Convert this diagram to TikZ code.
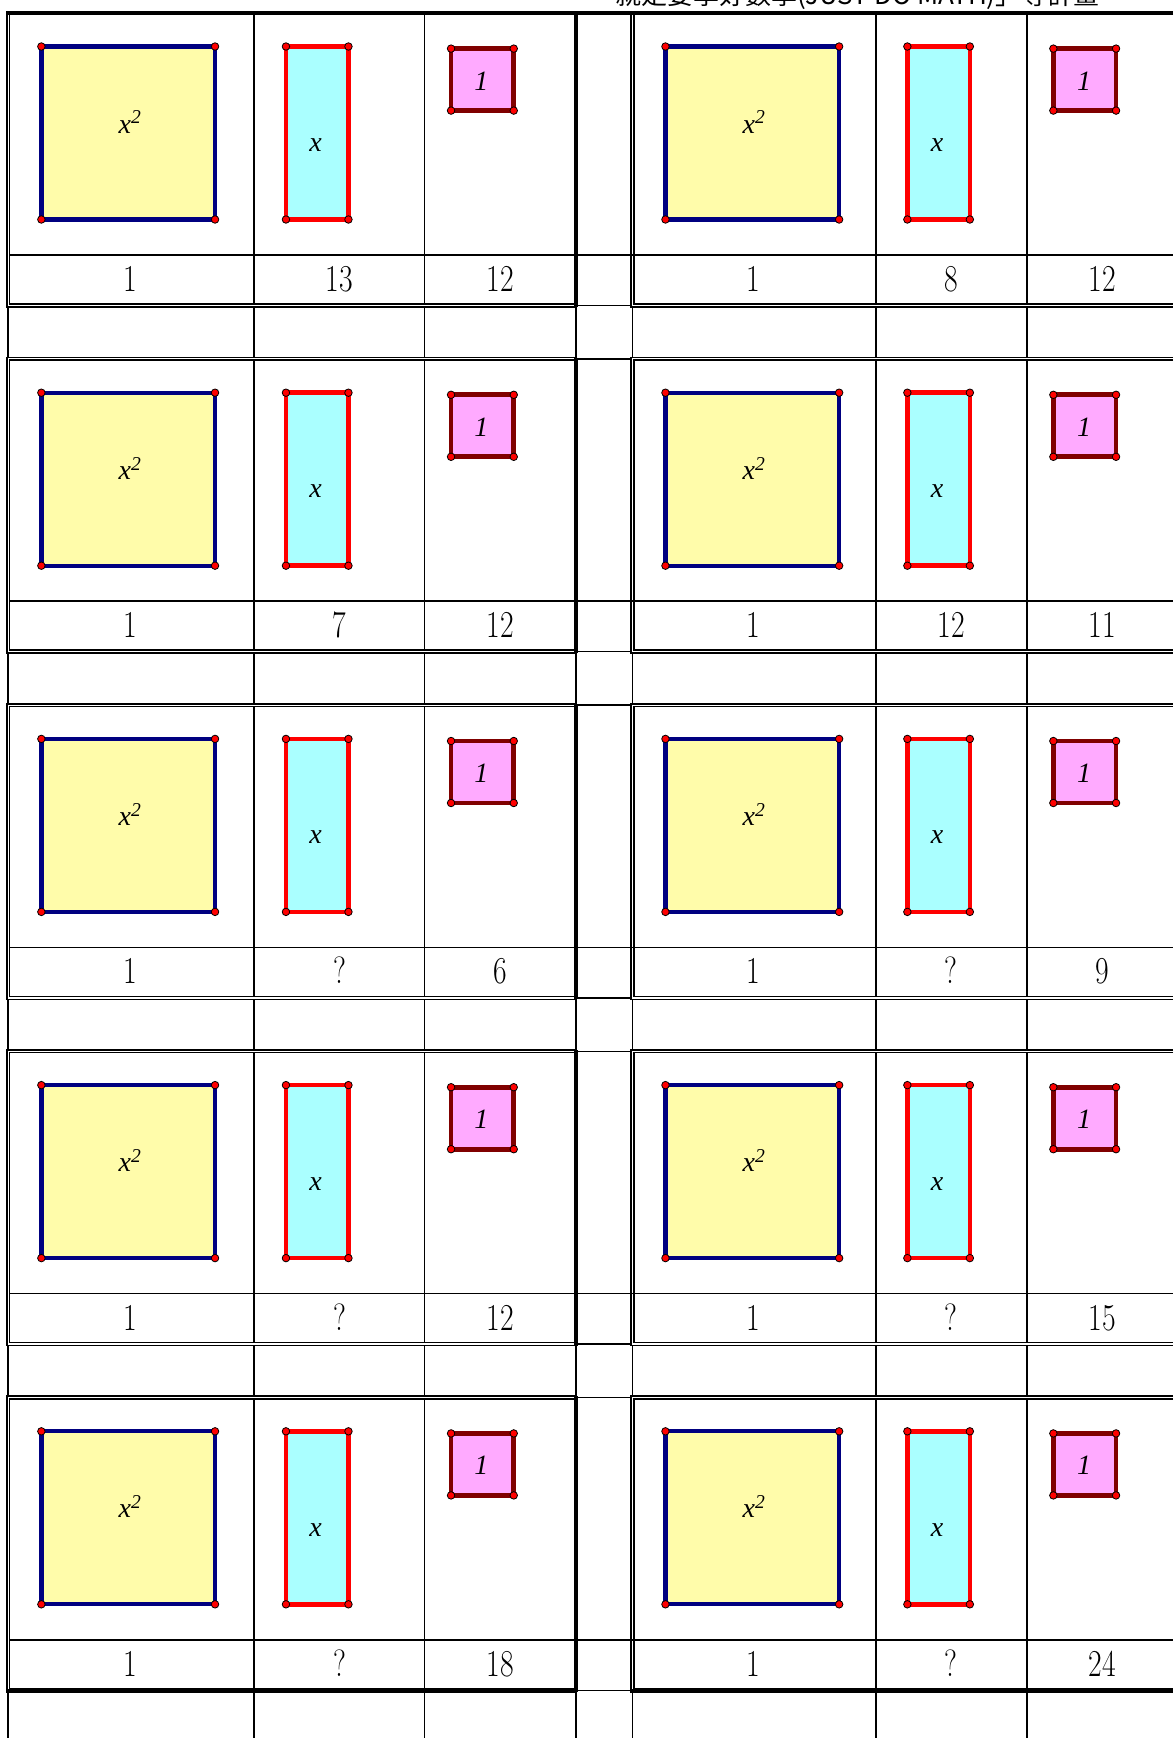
\documentclass[tikz,border=0pt]{standalone}
\usepackage{fontspec}
\usepackage{graphicx}
\newfontfamily\tmsi{Liberation Serif Italic}
\newfontfamily\cjkf{Noto Sans CJK TC}
\definecolor{yfill}{RGB}{255,252,170}
\definecolor{cfill}{RGB}{170,255,255}
\definecolor{pfill}{RGB}{255,170,255}
\definecolor{navyc}{RGB}{0,0,128}
\definecolor{dred}{RGB}{128,0,0}
\newcommand\rlab[1]{\scalebox{0.78}[1]{#1}}
\begin{document}
\begin{tikzpicture}[x=1pt,y=-1pt,
  tl/.style={line width=1.5pt,black},
  tk/.style={line width=3.8pt,black},
  sqy/.style={rectangle,draw=navyc,fill=yfill,line width=4.3pt,inner sep=0pt,outer sep=0pt,minimum width=173.7pt,minimum height=173pt},
  rcy/.style={rectangle,draw=red,fill=cfill,line width=4.5pt,inner sep=0pt,outer sep=0pt,minimum width=62.5pt,minimum height=173pt},
  sqp/.style={rectangle,draw=dred,fill=pfill,line width=4.8pt,inner sep=0pt,outer sep=0pt,minimum width=62.7pt,minimum height=62pt},
  crn/.style={circle,fill=red,draw=black,line width=0.8pt,inner sep=0pt,minimum size=7.5pt},
  ital/.style={font=\tmsi\fontsize{28}{28}\selectfont,inner sep=0pt,anchor=base},
  num/.style={font=\fontsize{38}{38}\selectfont,inner sep=0pt,anchor=base},
]
\useasboundingbox (0,0) rectangle (1173,1738);
\fill[white] (0,0) rectangle (1173,1738);
\node[anchor=base west,inner sep=0pt,font=\cjkf\fontsize{26}{26}\selectfont] (title) at (615,4) {就是要學好數學(JUST DO MATH)」等計畫};

% grid
\foreach \k [evaluate=\k as \T using 12.7+\k*346.2,
             evaluate=\k as \B using 305.5+\k*346.2,
             evaluate=\k as \L using 255+\k*346.2] in {0,1,2,3,4} {
  \draw[tl] (576,\T-1.3) -- (6.8,\T-1.3) -- (6.8,\B+1.5) -- (576,\B+1.5);
  \draw[tl] (575,\T+1.3) -- (9.6,\T+1.3) -- (9.6,\B-1.5) -- (575,\B-1.5);
  \draw[tk] (575.6,\T-1.3) -- (575.6,\B+1.5);
  \draw[tl] (1173,\T-1.3) -- (631.2,\T-1.3) -- (631.2,\B+1.5) -- (1173,\B+1.5);
  \draw[tl] (1173,\T+1.3) -- (633.9,\T+1.3) -- (633.9,\B-1.5) -- (1173,\B-1.5);
  \draw[tl] (576,\T) -- (631.2,\T);
  \draw[tl] (576,\B) -- (631.2,\B);
  \draw[tl] (9.6,\L) -- (1173,\L);
  \foreach \c in {254,424.6,876,1027} \draw[tl] (\c,\T+1.3) -- (\c,\B-1.5);
  \foreach \c in {8.2,254,424.6,576,632.5,876,1027} \draw[tl] (\c,\B+1.5) -- (\c,\T+344.9);
}
\draw[tk] (6.8,13) -- (1173,13);
\draw[tk] (6.8,1690.4) -- (576,1690.4);
\draw[tk] (631.2,1690.4) -- (1173,1690.4);

% tiles and labels
\foreach \k/\a/\b/\c/\d [evaluate=\k as \o using \k*346.2] in
   {0/13/12/8/12, 1/7/12/12/11, 2/?/6/?/9, 3/?/12/?/15, 4/?/18/?/24} {
  \node[sqy] (yL\k) at (128.2,133+\o) {};
  \node[rcy] (cL\k) at (317.2,133+\o) {};
  \node[sqp] (pL\k) at (482.4,79.6+\o) {};
  \node[sqy] (yR\k) at (752.3,133+\o) {};
  \node[rcy] (cR\k) at (938.6,133+\o) {};
  \node[sqp] (pR\k) at (1084.7,79.6+\o) {};
  \foreach \n in {yL,cL,pL,yR,cR,pR}
    \foreach \p [count=\i] in {north west,north east,south west,south east}
      \node[crn] (d\n\k\i) at (\n\k.\p) {};
  \node[ital] (tx2L\k) at (130,133+\o) {x\textsuperscript{2}};
  \node[ital] (txL\k) at (315.7,151.5+\o) {x};
  \node[ital] (t1L\k) at (481.4,90+\o) {1};
  \node[ital] (tx2R\k) at (754,133+\o) {x\textsuperscript{2}};
  \node[ital] (txR\k) at (937,151.5+\o) {x};
  \node[ital] (t1R\k) at (1084,90+\o) {1};
  \node[num] (nLa\k) at (130.5,291.5+\o) {\rlab{1}};
  \node[num] (nLb\k) at (339.5,291.5+\o) {\rlab{\a}};
  \node[num] (nLc\k) at (500,291.5+\o) {\rlab{\b}};
  \node[num] (nRa\k) at (753,291.5+\o) {\rlab{1}};
  \node[num] (nRb\k) at (951,291.5+\o) {\rlab{\c}};
  \node[num] (nRc\k) at (1102.5,291.5+\o) {\rlab{\d}};
}
\end{tikzpicture}
\end{document}
